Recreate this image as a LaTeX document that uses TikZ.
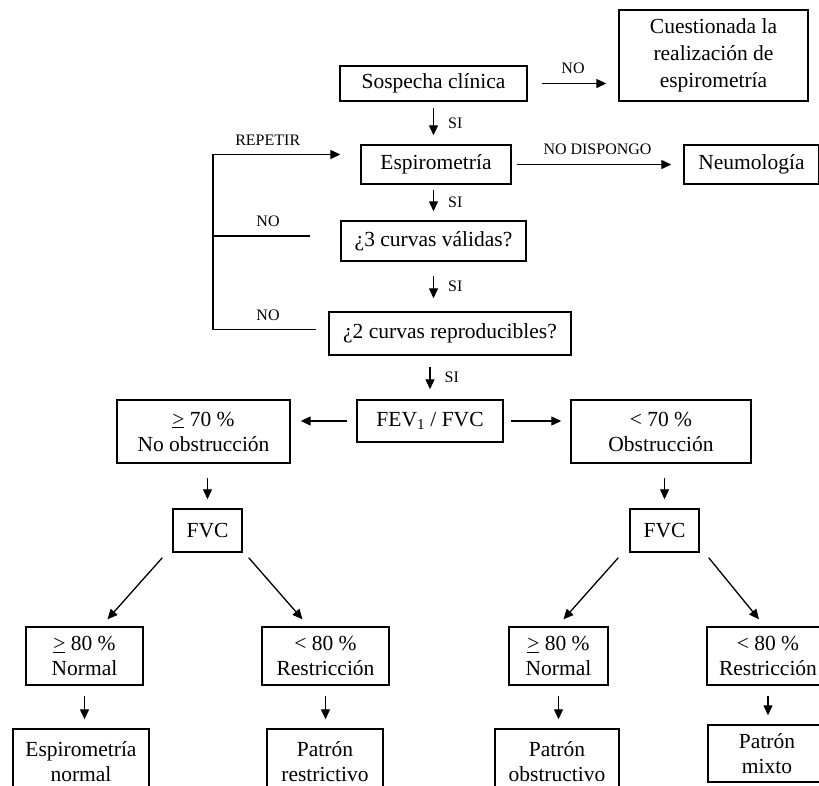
\documentclass[tikz,border=0pt]{standalone}
\usepackage{fontspec}
\setmainfont{Liberation Serif}
\usetikzlibrary{arrows.meta,calc}

\tikzset{
	caja/.style={draw, line width=1.4pt, align=center, inner sep=0pt, font=\fontsize{21.5}{25}\selectfont},
	flecha/.style={line width=1.3pt, -{Triangle[length=10pt,width=9pt]}},
	linea/.style={line width=1.3pt},
	etiqueta/.style={inner sep=0pt, font=\fontsize{16}{18}\selectfont}
}

\begin{document}
\begin{tikzpicture}[x=1pt, y=-1pt]
			%%%%% START %%%%%
			\useasboundingbox (0,0) rectangle (819,785);
			\fill[white] (0,0) rectangle (819,785);
			\clip (0,0) rectangle (819,785);
			
			\node[caja, minimum width=187pt, minimum height=35pt] (sospecha) at (433.5, 83.5) {Sospecha clínica};
			\node[caja, minimum width=189pt, minimum height=91pt, font=\fontsize{21.5}{27}\selectfont] (cuestion) at (713.5, 55.5) {Cuestionada la\\realización de\\espirometría};
			\node[caja, minimum width=150pt, minimum height=39pt] (espiro) at (436, 164.5) {Espirometría};
			\node[caja, minimum width=135pt, minimum height=39pt] (neumo) at (751.5, 164.5) {Neumología};
			\node[caja, minimum width=185pt, minimum height=40pt] (valida) at (433.5, 241) {¿3 curvas válidas?};
			\node[caja, minimum width=242pt, minimum height=43pt] (reprod) at (450, 333.5) {¿2 curvas reproducibles?};
			
			\node[caja, minimum width=146pt, minimum height=42pt] (fev) at (430, 421) {FEV\textsubscript{1} / FVC};
			\node[caja, minimum width=173pt, minimum height=63pt] (noobs) at (203.5, 431.5) {\underline{>} 70 \%\\No obstrucción};
			\node[caja, minimum width=180pt, minimum height=63pt] (obs) at (661, 431.5) {< 70 \%\\Obstrucción};
			
			\node[caja, minimum width=69pt, minimum height=43pt] (fvcizq) at (207.5, 530.5) {FVC};
			\node[caja, minimum width=69pt, minimum height=43pt] (fvcder) at (664.5, 530.5) {FVC};
			
			\node[caja, minimum width=117pt, minimum height=58pt] (normizq) at (84.5, 656) {\underline{>} 80 \%\\Normal};
			\node[caja, minimum width=127pt, minimum height=58pt] (restizq) at (325.5, 656) {< 80 \%\\Restricción};
			\node[caja, minimum width=99pt, minimum height=58pt] (normder) at (558.5, 656) {\underline{>} 80 \%\\Normal};
			\node[caja, minimum width=122pt, minimum height=58pt] (restder) at (768, 656) {< 80 \%\\Restricción};
			
			\node[caja, minimum width=136pt, minimum height=66pt] (espnormal) at (81, 762) {Espirometría\\normal};
			\node[caja, minimum width=116pt, minimum height=66pt] (patrest) at (325, 762) {Patrón\\restrictivo};
			\node[caja, minimum width=124pt, minimum height=66pt] (patobs) at (557, 762) {Patrón\\obstructivo};
			\node[caja, minimum width=118pt, minimum height=57pt] (patmix) at (767, 753.5) {Patrón\\mixto};
			
			% flujo principal
			\draw[flecha, shorten <=14pt, shorten >=12pt] (sospecha.east) -- (sospecha.east -| cuestion.west) node[etiqueta, midway, above=9pt] (no1) {NO};
			\draw[flecha, shorten <=6pt, shorten >=9pt] (sospecha.south) -- (sospecha.south |- espiro.north) node[etiqueta, midway, right=14pt] (si1) {SI};
			\draw[flecha, shorten <=5pt, shorten >=12pt] (espiro.east) -- (espiro.east -| neumo.west) node[etiqueta, midway, above=9pt] (nodisp) {NO DISPONGO};
			\draw[flecha, shorten <=5pt, shorten >=9pt] (valida.north |- espiro.south) -- (valida.north) node[etiqueta, midway, right=14pt] (si2) {SI};
			\draw[flecha, shorten <=14pt, shorten >=13pt] (valida.south) -- (valida.south |- reprod.north) node[etiqueta, midway, right=14pt] (si3) {SI};
			\draw[flecha, shorten <=11pt, shorten >=10pt] (reprod.south -| fev.north) -- (fev.north) node[etiqueta, midway, right=14pt] (si4) {SI};
			
			% vuelta a repetir
			\coordinate (izq) at (213, 0);
			\coordinate (fin) at ([xshift=-20pt, yshift=10pt]espiro.west);
			\draw[linea] ([xshift=-30pt, yshift=5pt]valida.west) -- ([yshift=5pt]valida.west -| izq);
			\draw[flecha] ([xshift=-12pt, yshift=4pt]reprod.west) -| (izq |- fin) -- (fin);
			\node[etiqueta, above=9pt] (repetir) at ($(izq |- fin)!0.43!(fin)$) {REPETIR};
			\node[etiqueta, above=9pt] (no2) at ([yshift=5pt]valida.west -| 268, 0) {NO};
			\node[etiqueta, above=9pt] (no3) at ([yshift=4pt]reprod.west -| 268, 0) {NO};
			
			% FEV1/FVC
			\draw[flecha, shorten <=9pt, shorten >=10pt] (fev.west) -- (fev.west -| noobs.east);
			\draw[flecha, shorten <=7pt, shorten >=9pt] (fev.east) -- (fev.east -| obs.west);
			\draw[flecha, shorten <=14pt, shorten >=9pt] (fvcizq.north |- noobs.south) -- (fvcizq.north);
			\draw[flecha, shorten <=14pt, shorten >=9pt] (fvcder.north |- obs.south) -- (fvcder.north);
			
			\draw[flecha] ($(fvcizq.south west)+(-10,5)$) -- ($(normizq.north)+(23,-7)$);
			\draw[flecha] ($(fvcizq.south east)+(6,5)$) -- ($(restizq.north)+(-23,-7)$);
			\draw[flecha] ($(fvcder.south west)+(-11,5)$) -- ($(normder.north)+(5,-7)$);
			\draw[flecha] ($(fvcder.south east)+(9,5)$) -- ($(restder.north)+(-9,-7)$);
			
			\foreach \a/\b in {normizq/espnormal, restizq/patrest, normder/patobs, restder/patmix}
				\draw[flecha, shorten <=10pt, shorten >=9pt] (\a.south) -- (\a.south |- \b.north);
			%%%%% END %%%%%
\end{tikzpicture}
\end{document}
